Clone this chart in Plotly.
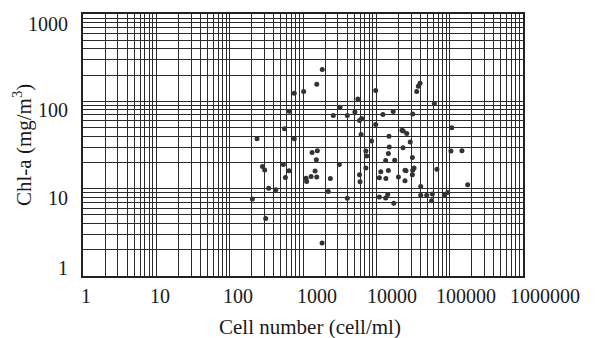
import plotly.graph_objects as go
import math

# Data
cell_number = [1830, 1540, 760, 1020, 9800, 3200, 5600, 2590, 4020, 5100,
               5900, 6300, 12300, 17000, 650, 9800, 560, 236, 760, 6200,
               14900, 8600, 15000, 1330, 1570, 7200, 7400, 1520, 14600, 13400,
               17800, 3130, 540, 280, 300, 645, 1460, 575, 1290, 1540,
               1100, 1120, 2360, 5900, 6000, 7200, 11500, 14600, 11000, 13500,
               20000, 340, 425, 204, 2210, 4020, 11000, 13400, 14300, 17300,
               310, 1820, 39400, 37400, 35500, 61800, 31300, 107000, 22400, 23300,
               26000, 29000, 23100, 104000, 147000, 31000, 24600, 25400, 32700, 31300,
               67000, 24600, 31000, 176000, 40300, 40300, 48600, 58000, 56600, 84500,
               94000]
chla = [231, 157, 124, 130, 133, 85.5, 106, 68.8, 68.8, 75.5,
        60.3, 63.6, 70.6, 76.4, 76.9, 54.4, 48.4, 37.3, 37.3, 41.8,
        39.7, 35.1, 30.0, 25.9, 27.2, 27.0, 23.7, 21.5, 25.2, 21.0,
        21.2, 18.9, 18.9, 17.9, 16.4, 16.0, 15.9, 13.4, 13.8, 13.6,
        13.2, 12.1, 13.1, 14.4, 12.0, 17.2, 15.6, 16.1, 13.3, 13.1,
        13.6, 10.1, 9.7, 7.6, 9.3, 7.76, 8.05, 7.84, 8.55, 6.81,
        4.56, 2.39, 161, 149, 130, 94.2, 71.7, 49.7, 46.8, 45.6,
        42.9, 34.2, 29.5, 27.0, 27.2, 22.7, 16.3, 16.0, 17.2, 16.3,
        16.7, 12.3, 14.4, 11.1, 10.6, 8.39, 8.39, 8.70, 7.25, 8.48,
        9.01]

x_ticks = [1, 10, 100, 1000, 10000, 100000, 1000000]
x_tick_labels = ["1", "10", "100", "1000", "10000", "100000", "1000000"]
y_ticks = [1, 10, 100, 1000]
y_tick_labels = ["1", "10", "100", "1000"]

x_title = "Cell number (cell/ml)"
y_title = "Chl-a (mg/m<sup>3</sup>)"

# styling
FONT = "Liberation Serif, Times New Roman, serif"
TXT = "#1a1a1a"
GRID = "#2b2b2b"
x_label_shift = [3, 4, 8, 14, 16, 16, 22]
y_label_shift = [8, -9, -9, -10]

fig = go.Figure()
fig.add_trace(go.Scatter(
    x=cell_number, y=chla, mode="markers",
    marker=dict(color="#333333", size=5, line=dict(width=0)),
    showlegend=False, cliponaxis=False,
))

minor_x = [m * 10 ** d for d in range(6) for m in range(2, 10)]
minor_y = [m * 10 ** d for d in range(3) for m in range(2, 10)]

axis_common = dict(
    type="log", showticklabels=False, ticks="",
    showgrid=True, gridcolor=GRID, gridwidth=1.2,
    showline=True, linecolor="#222222", linewidth=1.5, mirror=True,
    zeroline=False, fixedrange=True,
)
fig.update_xaxes(range=[0, 6], tickvals=x_ticks,
                 minor=dict(tickvals=minor_x, showgrid=True, gridcolor=GRID, gridwidth=1.1, ticks=""),
                 **axis_common)
fig.update_yaxes(range=[0, 3], tickvals=y_ticks,
                 minor=dict(tickvals=minor_y, showgrid=True, gridcolor=GRID, gridwidth=1.1, ticks=""),
                 **axis_common)

annotations = []
for v, t, s in zip(x_ticks, x_tick_labels, x_label_shift):
    annotations.append(dict(x=math.log10(v), y=0, xref="x", yref="paper", text=t,
                            showarrow=False, xanchor="center", yanchor="middle",
                            xshift=s, yshift=-20, font=dict(family=FONT, size=20, color=TXT)))
for v, t, s in zip(y_ticks, y_tick_labels, y_label_shift):
    annotations.append(dict(x=0, y=math.log10(v), xref="paper", yref="y", text=t,
                            showarrow=False, xanchor="right", yanchor="middle",
                            xshift=-13, yshift=s, font=dict(family=FONT, size=20, color=TXT)))
annotations.append(dict(x=0.5, y=0, xref="paper", yref="paper", text=x_title,
                        showarrow=False, xanchor="center", yanchor="middle",
                        xshift=7, yshift=-51, font=dict(family=FONT, size=21, color=TXT)))
annotations.append(dict(x=0, y=0.5, xref="paper", yref="paper", text=y_title,
                        showarrow=False, xanchor="center", yanchor="middle", textangle=-90,
                        xshift=-61, yshift=0, font=dict(family=FONT, size=21, color=TXT)))

fig.update_layout(
    width=595, height=338,
    margin=dict(l=83, r=72, t=12, b=62),
    paper_bgcolor="white", plot_bgcolor="white",
    annotations=annotations,
)

fig.write_html("out.html")
